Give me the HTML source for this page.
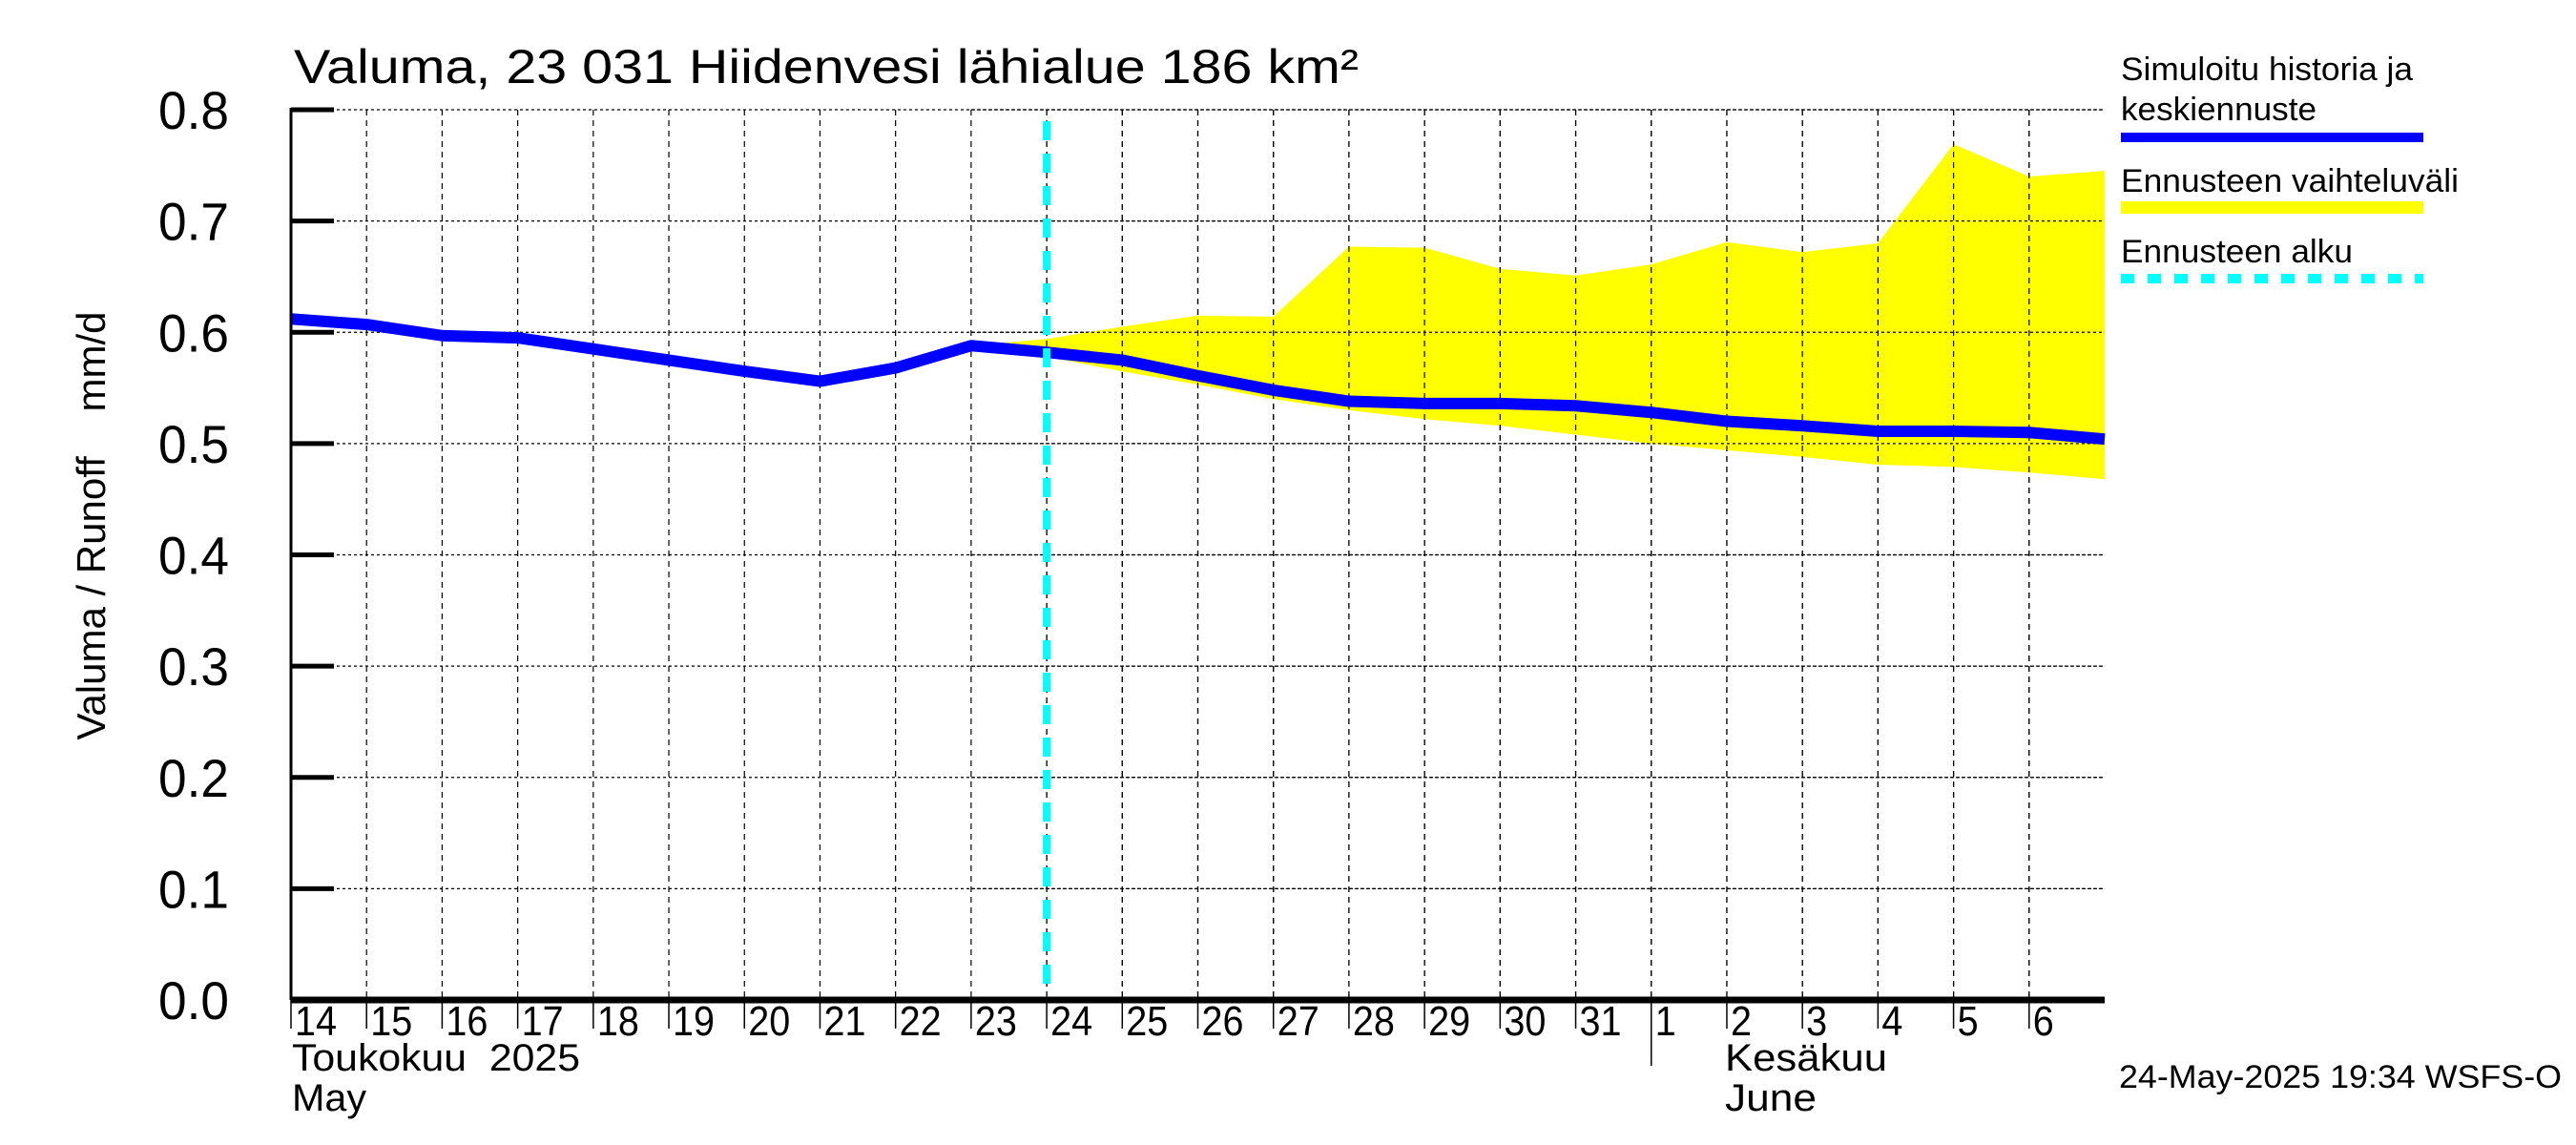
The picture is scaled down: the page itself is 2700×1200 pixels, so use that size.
<!DOCTYPE html>
<html><head><meta charset="utf-8"><style>
html,body{margin:0;padding:0;background:#fff;}
svg{display:block;font-family:"Liberation Sans",sans-serif;}
</style></head><body>
<svg id="chart" width="2700" height="1200" viewBox="0 0 2700 1200" xmlns="http://www.w3.org/2000/svg">
<text x="308" y="87" font-size="50" textLength="1116" lengthAdjust="spacingAndGlyphs">Valuma, 23 031 Hiidenvesi lähialue 186 km²</text>
<text transform="translate(110,551) rotate(-90)" font-size="42" text-anchor="middle" xml:space="preserve">Valuma / Runoff    mm/d</text>
<g id="grid"></g>
<g id="marks"></g>
<g id="axes"></g>
<g>
<text x="2223" y="84" font-size="34" textLength="306" lengthAdjust="spacingAndGlyphs">Simuloitu historia ja</text>
<text x="2223" y="126" font-size="34" textLength="205" lengthAdjust="spacingAndGlyphs">keskiennuste</text>
<rect x="2223" y="139" width="317" height="10" fill="#0000ff"/>
<text x="2223" y="201" font-size="34" textLength="354" lengthAdjust="spacingAndGlyphs">Ennusteen vaihteluväli</text>
<rect x="2223" y="211" width="317" height="13" fill="#ffff00"/>
<text x="2223" y="275" font-size="34" textLength="243" lengthAdjust="spacingAndGlyphs">Ennusteen alku</text>
<line x1="2223" y1="292" x2="2540" y2="292" stroke="#00ffff" stroke-width="10" stroke-dasharray="14 14"/>
</g>
<text x="306" y="1122" font-size="40" textLength="302" lengthAdjust="spacingAndGlyphs" xml:space="preserve">Toukokuu  2025</text>
<text x="306" y="1164" font-size="40" textLength="78" lengthAdjust="spacingAndGlyphs">May</text>
<text x="1808" y="1122" font-size="40" textLength="170" lengthAdjust="spacingAndGlyphs">Kesäkuu</text>
<text x="1808" y="1164" font-size="40" textLength="96" lengthAdjust="spacingAndGlyphs">June</text>
<text x="2221" y="1140" font-size="34" textLength="464" lengthAdjust="spacingAndGlyphs">24-May-2025 19:34 WSFS-O</text>
</svg>
<script>
const dayLabels = ["14","15","16","17","18","19","20","21","22","23","24","25","26","27","28","29","30","31","1","2","3","4","5","6"];
const yTicks = [0.0,0.1,0.2,0.3,0.4,0.5,0.6,0.7,0.8];
const yTickLabels = ["0.0","0.1","0.2","0.3","0.4","0.5","0.6","0.7","0.8"];
const historyValues = [0.612,0.607,0.597,0.595,0.585,0.575,0.565,0.556,0.568,0.588,0.582,0.575,0.561,0.548,0.538,0.536,0.536,0.534,0.528,0.520,0.516,0.511,0.511,0.510,0.504];
const rangeStartIndex = 9;
const rangeUpper = [0.588,0.594,0.605,0.615,0.614,0.677,0.676,0.657,0.651,0.661,0.681,0.672,0.680,0.769,0.740,0.745];
const rangeLower = [0.588,0.578,0.565,0.553,0.540,0.530,0.522,0.516,0.508,0.500,0.494,0.488,0.481,0.479,0.474,0.468];
const forecastStartIndex = 10;
const monthBoundaryIndex = 18;

const NS="http://www.w3.org/2000/svg";
const X0=305, X1=2206, Y0=1048, Y1=115, nDays=24;
function xs(i){return X0+(X1-X0)*i/nDays;}
function ys(v){return Y0-(Y0-Y1)*v/0.8;}
function mk(tag,attrs,parent){const e=document.createElementNS(NS,tag);for(const k in attrs)e.setAttribute(k,attrs[k]);parent.appendChild(e);return e;}
const grid=document.getElementById('grid'), marks=document.getElementById('marks'), axes=document.getElementById('axes');

for(let i=1;i<nDays;i++){
  const l=mk('line',{x1:xs(i),y1:Y1,x2:xs(i),y2:Y0,stroke:'#000','stroke-width':1.2,'stroke-dasharray':'6 5'},grid);
  
  
}
yTicks.forEach((v,k)=>{
  if(v>0){
    const g=mk('line',{x1:X0,y1:ys(v),x2:X1,y2:ys(v),stroke:'#000','stroke-width':1.2,'stroke-dasharray':'3 3'},grid);
    
    
  }
  const t=mk('line',{x1:X0,y1:ys(v),x2:X0+45,y2:ys(v),stroke:'#000','stroke-width':5},axes);
  
  
  const lb=mk('text',{x:240,y:ys(v)+20,'font-size':56,'text-anchor':'end',textLength:74,lengthAdjust:'spacingAndGlyphs'},axes);
  lb.textContent=yTickLabels[k];
  
  
});

let pts=[];
rangeUpper.forEach((v,k)=>pts.push(xs(rangeStartIndex+k)+','+ys(v)));
for(let k=rangeLower.length-1;k>=0;k--)pts.push(xs(rangeStartIndex+k)+','+ys(rangeLower[k]));
const band=mk('polygon',{points:pts.join(' '),fill:'#ffff00'},marks);



for(let i=rangeStartIndex+1;i<nDays;i++){
  const l=mk('line',{x1:xs(i),y1:Y1,x2:xs(i),y2:Y0,stroke:'#000','stroke-width':1.2,'stroke-dasharray':'6 5'},marks);
  
  
}
yTicks.forEach(v=>{ if(v>0){
  const g=mk('line',{x1:xs(rangeStartIndex),y1:ys(v),x2:X1,y2:ys(v),stroke:'#000','stroke-width':1.2,'stroke-dasharray':'3 3'},marks);
  
  
}});

const hl=mk('polyline',{points:historyValues.map((v,i)=>xs(i)+','+ys(v)).join(' '),fill:'none',stroke:'#0000ff','stroke-width':12,'stroke-linejoin':'round'},marks);



const fs=mk('line',{x1:xs(forecastStartIndex),y1:127,x2:xs(forecastStartIndex),y2:Y0,stroke:'#00ffff','stroke-width':8,'stroke-dasharray':'20 14'},marks);



const ya=mk('line',{x1:X0,y1:Y1-2,x2:X0,y2:Y0,stroke:'#000','stroke-width':3},axes);


const xa=mk('line',{x1:X0,y1:Y0,x2:X1,y2:Y0,stroke:'#000','stroke-width':7},axes);


dayLabels.forEach((d,i)=>{
  const t=mk('line',{x1:xs(i),y1:Y0,x2:xs(i),y2:Y0+30,stroke:'#000','stroke-width':1.5},axes);
  
  
  const lb=mk('text',{x:xs(i)+4,y:1085,'font-size':44,textLength:d.length*22,lengthAdjust:'spacingAndGlyphs'},axes);
  lb.textContent=d;
  
  
});
const mb=mk('line',{x1:xs(monthBoundaryIndex),y1:Y0,x2:xs(monthBoundaryIndex),y2:1117,stroke:'#000','stroke-width':1.5},axes);


</script>
</body></html>
